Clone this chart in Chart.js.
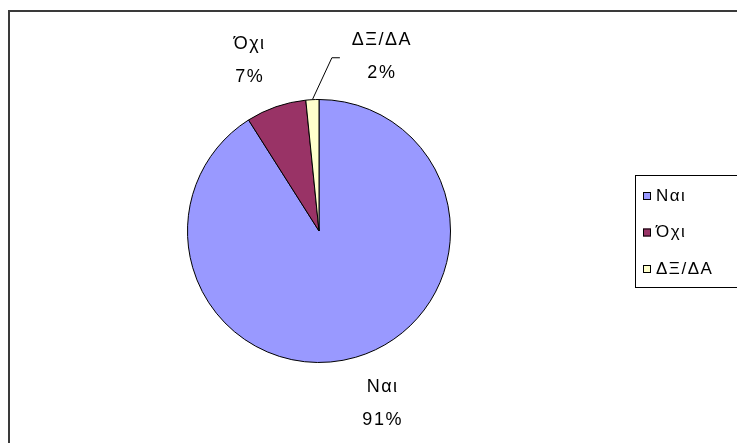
<!DOCTYPE html>
<html>
<head>
<meta charset="utf-8">
<script src="https://cdn.jsdelivr.net/npm/chart.js@4"></script>
<style>
  html, body { margin: 0; padding: 0; background: #fff; overflow: hidden; }
  #wrap { position: relative; width: 737px; height: 443px; }
  #frame { position: absolute; left: 8px; top: 10px; width: 760px; height: 460px;
           border-top: 2px solid #3a3a3a; border-left: 2px solid #3a3a3a; }
  canvas { position: absolute; left: 0; top: 0; }
</style>
</head>
<body>
<div id="wrap">
  <div id="frame"></div>
  <canvas id="pie" width="737" height="443"></canvas>
</div>
<script>
// answers (share of respondents)
var categories = ['Ναι', 'Όχι', 'ΔΞ/ΔΑ'];
var shares = [91, 7.4, 1.6];
var pctLabels = ['91%', '7%', '2%'];
var colors = ['#9999FF', '#993366', '#FFFFCC'];

var FONT = '"Liberation Sans", Arial, sans-serif';

// label nudges (px) away from the plain radial spot
var nudgeX = [13, -10, 72];
var nudgeY = [-2, 1, 6];

// outside labels, excel style
var sliceLabels = {
  id: 'sliceLabels',
  afterDatasetsDraw: function(chart) {
    var ctx = chart.ctx;
    var meta = chart.getDatasetMeta(0);
    ctx.save();
    ctx.font = '18px ' + FONT;
    ctx.letterSpacing = '1.5px';
    ctx.fillStyle = '#000';
    ctx.textAlign = 'center';
    ctx.textBaseline = 'middle';
    meta.data.forEach(function(arc, i) {
      var p = arc.getProps(['x', 'y', 'startAngle', 'endAngle', 'outerRadius'], true);
      var mid = (p.startAngle + p.endAngle) / 2;
      var r = p.outerRadius * 1.38;
      var lx = p.x + Math.cos(mid) * r + nudgeX[i];
      var ly = p.y + Math.sin(mid) * r + nudgeY[i];
      if (i == 2) {
        // small slice: leader line from the rim to the label
        var ex = p.x + Math.cos(mid) * p.outerRadius;
        var ey = p.y + Math.sin(mid) * p.outerRadius;
        ctx.strokeStyle = '#000';
        ctx.lineWidth = 1;
        ctx.beginPath();
        ctx.moveTo(ex, ey);
        ctx.lineTo(lx - 50, ly + 2);
        ctx.lineTo(lx - 42, ly + 2);
        ctx.stroke();
      }
      ctx.fillText(categories[i], lx, ly - 16);
      ctx.fillText(pctLabels[i], lx, ly + 17);
    });
    ctx.restore();
  }
};

// boxed legend on the right
var boxLegend = {
  id: 'boxLegend',
  afterDraw: function(chart) {
    var ctx = chart.ctx;
    ctx.save();
    ctx.strokeStyle = '#000';
    ctx.lineWidth = 1;
    ctx.strokeRect(635.5, 175.5, 110, 112);
    ctx.font = '17px ' + FONT;
    ctx.letterSpacing = '1.5px';
    ctx.textBaseline = 'middle';
    categories.forEach(function(c, i) {
      var y = 196 + i * 36.5;
      ctx.fillStyle = colors[i];
      ctx.fillRect(643, y - 4, 8, 8);
      ctx.strokeRect(643.5, y - 3.5, 7, 7);
      ctx.fillStyle = '#000';
      ctx.fillText(c, 656, y);
    });
    ctx.restore();
  }
};

new Chart(document.getElementById('pie'), {
  type: 'pie',
  data: {
    labels: categories,
    datasets: [{
      data: shares,
      backgroundColor: colors,
      borderColor: '#000',
      borderWidth: 1
    }]
  },
  options: {
    responsive: false,
    animation: false,
    layout: { padding: { left: 187, right: 286, top: 99, bottom: 80 } },
    plugins: {
      legend: { display: false },
      tooltip: { enabled: false }
    }
  },
  plugins: [sliceLabels, boxLegend]
});
</script>
</body>
</html>
